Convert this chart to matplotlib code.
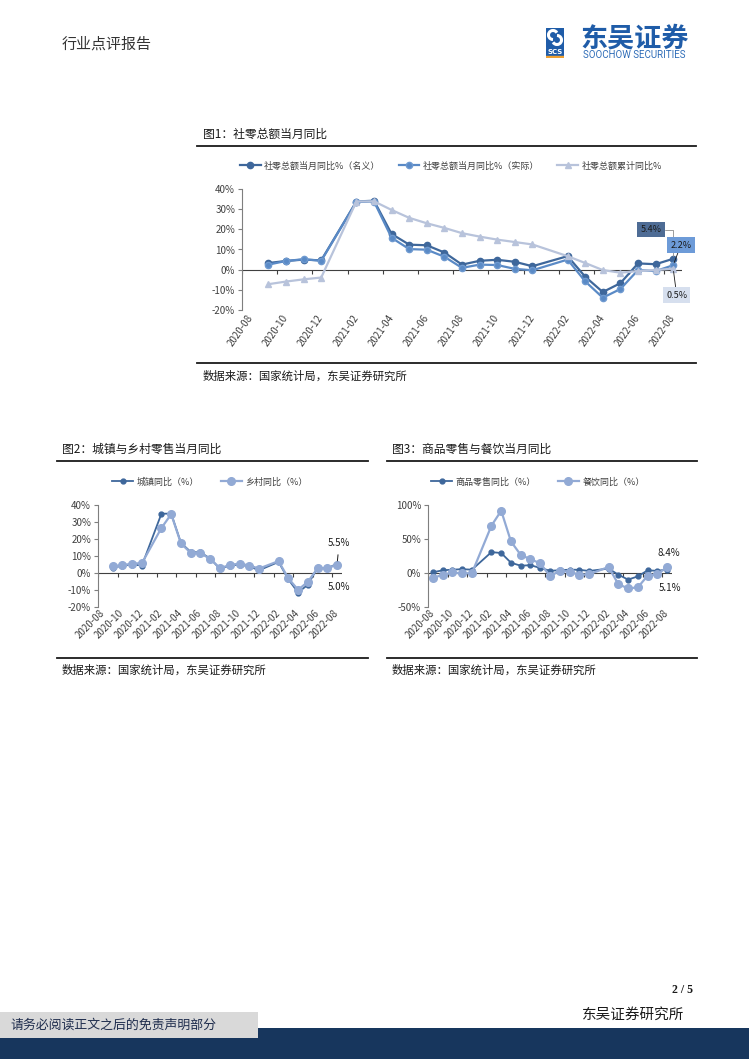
import numpy as np
import matplotlib
matplotlib.use('Agg')
import matplotlib.pyplot as plt
from matplotlib.lines import Line2D
from matplotlib.patches import Rectangle, Arc

plt.rcParams['font.family'] = ['Noto Sans CJK SC', 'DejaVu Sans']

nan = np.nan

# 月份轴（1月留空位，1-2月合并发布）
months = ['2020-08', '2020-09', '2020-10', '2020-11', '2020-12',
          '2021-01', '2021-02', '2021-03', '2021-04', '2021-05', '2021-06', '2021-07',
          '2021-08', '2021-09', '2021-10', '2021-11', '2021-12',
          '2022-01', '2022-02', '2022-03', '2022-04', '2022-05', '2022-06', '2022-07', '2022-08']
tick_labels = months[::2]

# 图1 社零总额当月同比 (%)
retail_nominal = [nan, 3.3, 4.3, 5.0, 4.6, nan, 33.8, 34.2, 17.7, 12.4, 12.1, 8.5,
                  2.5, 4.4, 4.9, 3.9, 1.7, nan, 6.7, -3.5, -11.1, -6.7, 3.1, 2.7, 5.4]
retail_real = [nan, 2.5, 4.3, 5.2, 4.4, nan, 33.6, 33.8, 15.8, 10.2, 9.9, 6.4,
               0.9, 2.5, 2.3, 0.4, -0.3, nan, 5.0, -5.8, -13.9, -9.6, -0.2, -0.7, 2.2]
retail_cum = [nan, -7.2, -5.9, -4.8, -3.9, nan, 33.8, 33.9, 29.6, 25.7, 23.0, 20.7,
              18.1, 16.4, 14.9, 13.7, 12.5, nan, 6.7, 3.3, -0.2, -1.5, -0.7, -0.2, 0.5]

# 图2 城镇与乡村 (%)
urban = [nan, 3.2, 4.2, 5.0, 4.4, nan, 34.9, 34.9, 17.7, 12.4, 12.1, 8.5,
         2.4, 4.4, 4.9, 3.9, 1.6, nan, 6.5, -3.7, -11.5, -6.9, 3.1, 2.7, 5.5]
rural = [nan, 3.9, 4.6, 5.5, 5.8, nan, 26.5, 34.6, 17.4, 11.8, 11.6, 8.3,
         2.8, 4.7, 5.5, 4.4, 2.6, nan, 7.0, -3.1, -9.9, -5.2, 2.8, 2.7, 5.0]

# 图3 商品零售与餐饮 (%)
goods = [1.0, 4.0, 4.9, 5.6, 4.9, nan, 30.7, 29.4, 15.1, 10.7, 11.5, 7.4,
         3.3, 4.0, 4.9, 4.7, 3.0, nan, 6.5, -2.5, -9.7, -5.0, 3.9, 3.2, 5.1]
catering = [-7.0, -2.9, 0.8, -0.6, -0.2, nan, 69.6, 91.6, 46.4, 26.6, 20.2, 14.3,
            -4.5, 3.1, 2.0, -2.7, -2.0, nan, 8.9, -16.4, -22.7, -21.1, -4.0, -1.5, 8.4]

W, H = 749, 1059
fig = plt.figure(figsize=(W / 100, H / 100), dpi=100)

TXT = '#404040'
DARK = '#3E679B'
MID = '#5A8AC6'
LIGHT = '#B8C3DB'
LIGHT2 = '#92AAD5'


def px_rect(l, t, r, b):
    return [l / W, 1 - b / H, (r - l) / W, (b - t) / H]


def fx(x):
    return x / W


def fy(y):
    return 1 - y / H


def hrule(x0, x1, y, lw=1.3, color='#1a1a1a'):
    fig.add_artist(Line2D([fx(x0), fx(x1)], [fy(y), fy(y)],
                          transform=fig.transFigure, lw=lw, color=color))


def draw_series(ax, vals, **kw):
    y = np.array(vals, dtype=float)
    x = np.arange(len(y))
    ok = ~np.isnan(y)
    return ax.plot(x[ok], y[ok], **kw)[0]


def style_axes(ax, ylo, yhi, step, rot, pad):
    ax.set_xlim(-0.5, len(months) - 0.5)
    ax.set_ylim(ylo, yhi)
    ax.set_yticks(np.arange(ylo, yhi + step / 2, step))
    ax.yaxis.set_major_formatter(lambda v, p: f'{v:.0f}%')
    for s in ['top', 'right', 'bottom']:
        ax.spines[s].set_visible(False)
    ax.spines['left'].set_color('#7f7f7f')
    ax.spines['left'].set_linewidth(0.8)
    ax.axhline(0, color='#404040', lw=0.8, zorder=1)
    bounds = np.arange(-0.5, len(months), 2)
    ax.plot(bounds, np.zeros_like(bounds), ls='', marker=3, ms=3,
            mew=0.8, color='#404040', zorder=1)
    ax.set_xticks(range(0, len(months), 2))
    ax.set_xticklabels(tick_labels, rotation=rot, ha='right', va='center',
                       rotation_mode='anchor')
    ax.tick_params(axis='x', length=0, labelsize=7, pad=pad, labelcolor=TXT)
    ax.tick_params(axis='y', direction='out', length=3, width=0.8,
                   color='#7f7f7f', labelsize=7, pad=2, labelcolor=TXT)
    ax.patch.set_alpha(0)


# ---------- 页眉 ----------
fig.text(fx(62), fy(44), '行业点评报告', fontsize=10.8, color='#333333',
         va='center', ha='left')

logo = fig.add_axes(px_rect(546, 28, 564, 58))
logo.set_xlim(0, 18)
logo.set_ylim(30, 0)
logo.axis('off')
logo.add_patch(Rectangle((0, 0), 18, 19, color='#1F5CA8'))
logo.add_patch(Arc((7, 7), 9, 9, theta1=90, theta2=330, color='white', lw=2.2))
logo.add_patch(Arc((11, 12), 9, 9, theta1=270, theta2=150, color='white', lw=2.2))
logo.add_patch(Rectangle((0, 20), 18, 7, color='#1F5CA8'))
logo.text(9, 23.7, 'SCS', color='white', fontsize=5, fontweight='bold',
          ha='center', va='center', family='DejaVu Sans')
logo.add_patch(Rectangle((0, 28), 18, 1.5, color='#F0A030'))
fig.text(fx(580), fy(38), '东吴证券', fontsize=19.5, fontweight='bold',
         color='#1F5CA8', va='center', ha='left')
fig.text(fx(583), fy(55), 'SOOCHOW SECURITIES', fontsize=7, color='#2F6DB8',
         va='center', ha='left', family='Roboto')

# ---------- 图1 ----------
fig.text(fx(203), fy(134), '图1：社零总额当月同比', fontsize=8.5,
         color='#1a1a1a', va='center', ha='left')
hrule(197, 696, 146)
hrule(197, 696, 363)
fig.text(fx(203), fy(376), '数据来源：国家统计局，东吴证券研究所', fontsize=8.2,
         color='#1a1a1a', va='center', ha='left')

ax1 = fig.add_axes(px_rect(242, 189, 682, 310))
style_axes(ax1, -20, 40, 10, 55, 4)
l1 = draw_series(ax1, retail_nominal, color=DARK, lw=1.6, marker='o', ms=4.5)
l2 = draw_series(ax1, retail_real, color=MID, lw=1.6, marker='o', ms=4.5,
                 mec='#6F9AD0')
l3 = draw_series(ax1, retail_cum, color=LIGHT, lw=1.6, marker='^', ms=4.5)
fig.legend([l1, l2, l3],
           ['社零总额当月同比%（名义）', '社零总额当月同比%（实际）', '社零总额累计同比%'],
           loc='center', bbox_to_anchor=(fx(451), fy(166)), ncol=3, frameon=False,
           fontsize=6.5, handlelength=2.3, columnspacing=2.0, handletextpad=0.4,
           labelcolor=TXT)

last = len(months) - 1
ax1.annotate(f'{retail_nominal[last]:.1f}%', xy=(last, retail_nominal[last]),
             xytext=(-16, 21), textcoords='offset points', ha='center', va='center',
             fontsize=6.5, color='#1a1a1a',
             bbox=dict(boxstyle='square,pad=0.35', fc='#4E6C95', ec='none'),
             arrowprops=dict(arrowstyle='-', color='#8c8c8c', lw=0.6, shrinkA=0,
                             shrinkB=2, connectionstyle='angle,angleA=0,angleB=90,rad=0'))
ax1.annotate(f'{retail_real[last]:.1f}%', xy=(last, retail_real[last]),
             xytext=(5.5, 14.5), textcoords='offset points', ha='center', va='center',
             fontsize=6.5, color='#1a1a1a',
             bbox=dict(boxstyle='square,pad=0.35', fc='#6D9BD8', ec='none'),
             arrowprops=dict(arrowstyle='-', color='#1a1a1a', lw=0.6, shrinkA=0, shrinkB=2))
ax1.annotate(f'{retail_cum[last]:.1f}%', xy=(last, retail_cum[last]),
             xytext=(2.5, -19), textcoords='offset points', ha='center', va='center',
             fontsize=6.5, color='#1a1a1a',
             bbox=dict(boxstyle='square,pad=0.35', fc='#D6DFEE', ec='none'),
             arrowprops=dict(arrowstyle='-', color='#1a1a1a', lw=0.6, shrinkA=0, shrinkB=2))

# ---------- 图2 ----------
fig.text(fx(62), fy(449), '图2：城镇与乡村零售当月同比', fontsize=8.5,
         color='#1a1a1a', va='center', ha='left')
hrule(57, 368, 461)
hrule(57, 368, 658)
fig.text(fx(62), fy(670), '数据来源：国家统计局，东吴证券研究所', fontsize=8.2,
         color='#1a1a1a', va='center', ha='left')

ax2 = fig.add_axes(px_rect(98, 505, 342, 607))
style_axes(ax2, -20, 40, 10, 45, 3)
u = draw_series(ax2, urban, color=DARK, lw=1.3, marker='o', ms=3.5)
r = draw_series(ax2, rural, color=LIGHT2, lw=1.6, marker='o', ms=5.5)
fig.legend([u, r], ['城镇同比（%）', '乡村同比（%）'], loc='center',
           bbox_to_anchor=(fx(210), fy(482)), ncol=2, frameon=False, fontsize=6.5,
           handlelength=2.3, columnspacing=2.4, handletextpad=0.4, labelcolor=TXT)
ax2.annotate(f'{urban[last]:.1f}%', xy=(last, urban[last]), xytext=(1.5, 15),
             textcoords='offset points', ha='center', va='center', fontsize=7,
             color='#1a1a1a',
             arrowprops=dict(arrowstyle='-', color='#1a1a1a', lw=0.7, shrinkA=3, shrinkB=2))
ax2.annotate(f'{rural[last]:.1f}%', xy=(last, rural[last]), xytext=(1.5, -16),
             textcoords='offset points', ha='center', va='center', fontsize=7,
             color='#1a1a1a')

# ---------- 图3 ----------
fig.text(fx(392), fy(449), '图3：商品零售与餐饮当月同比', fontsize=8.5,
         color='#1a1a1a', va='center', ha='left')
hrule(387, 697, 461)
hrule(387, 697, 658)
fig.text(fx(392), fy(670), '数据来源：国家统计局，东吴证券研究所', fontsize=8.2,
         color='#1a1a1a', va='center', ha='left')

ax3 = fig.add_axes(px_rect(428, 505, 672, 607))
style_axes(ax3, -50, 100, 50, 45, 3)
g = draw_series(ax3, goods, color=DARK, lw=1.3, marker='o', ms=3.5)
c = draw_series(ax3, catering, color=LIGHT2, lw=1.6, marker='o', ms=5.5)
fig.legend([g, c], ['商品零售同比（%）', '餐饮同比（%）'], loc='center',
           bbox_to_anchor=(fx(538), fy(482)), ncol=2, frameon=False, fontsize=6.5,
           handlelength=2.3, columnspacing=2.4, handletextpad=0.4, labelcolor=TXT)
ax3.annotate(f'{catering[last]:.1f}%', xy=(last, catering[last]), xytext=(1, 10.5),
             textcoords='offset points', ha='center', va='center', fontsize=7,
             color='#1a1a1a')
ax3.annotate(f'{goods[last]:.1f}%', xy=(last, goods[last]), xytext=(2, -13),
             textcoords='offset points', ha='center', va='center', fontsize=7,
             color='#1a1a1a')

# ---------- 页脚 ----------
fig.text(fx(682), fy(990), '2 / 5', fontsize=8.5, fontweight='bold',
         family='Liberation Serif', color='#1a1a1a', va='center', ha='center')
fig.text(fx(582), fy(1015), '东吴证券研究所', fontsize=10.5, color='#1a1a1a',
         va='center', ha='left')
fig.add_artist(Rectangle((0, 0), 1, fy(1028), transform=fig.transFigure,
                         color='#17365D', lw=0))
fig.add_artist(Rectangle((0, fy(1038)), fx(258), fy(1012) - fy(1038),
                         transform=fig.transFigure, color='#D9D9D9', lw=0))
fig.text(fx(10), fy(1025), '请务必阅读正文之后的免责声明部分', fontsize=9.3,
         color='#1F2D4D', va='center', ha='left')

fig.savefig('out.png', dpi=100)
